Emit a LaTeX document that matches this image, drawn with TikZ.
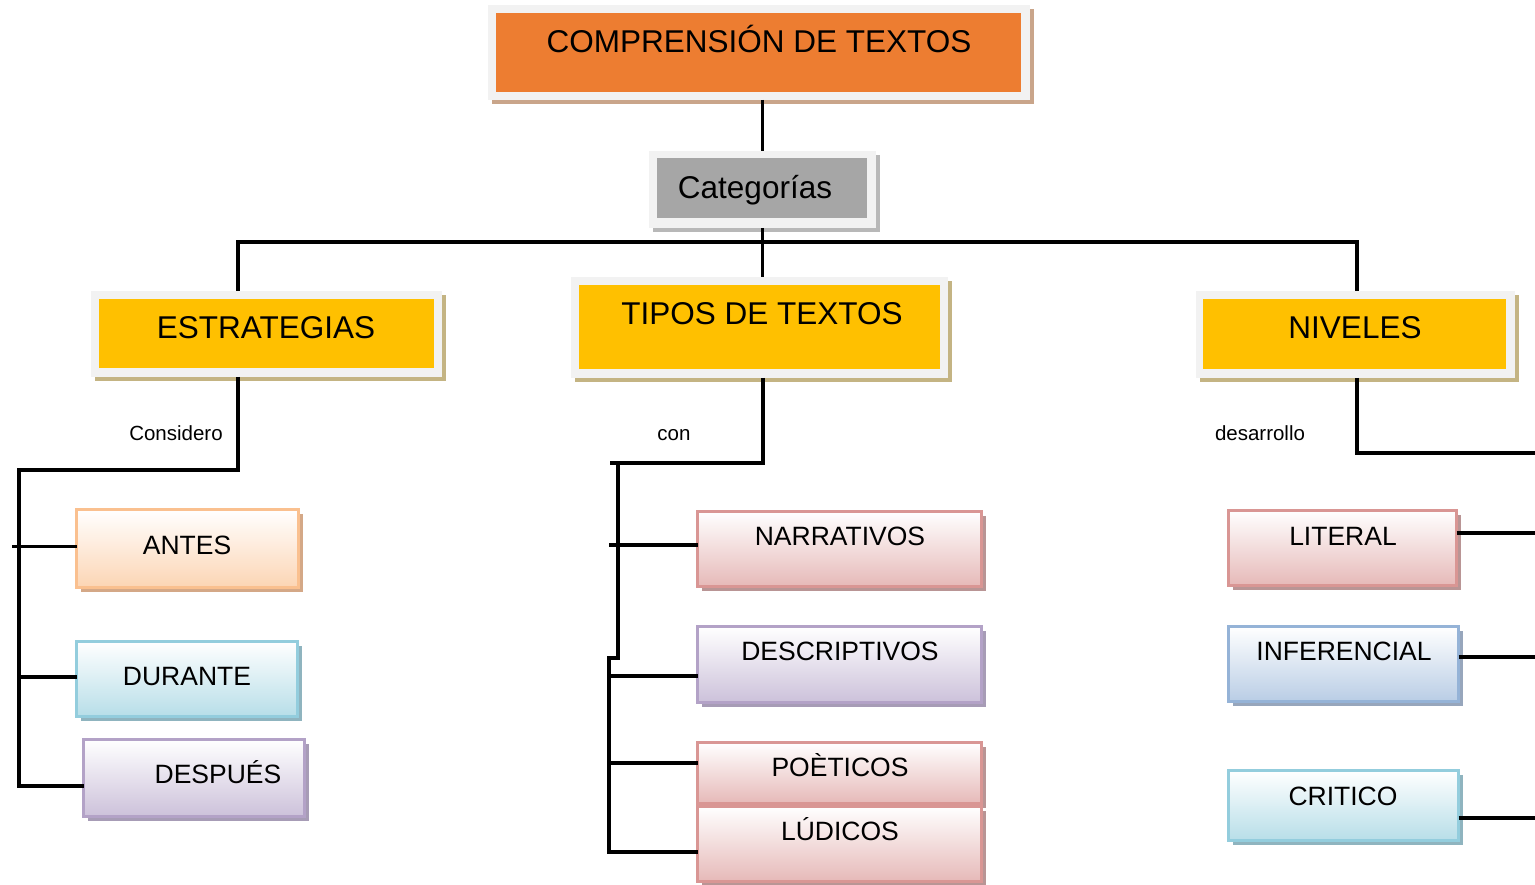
\documentclass[tikz,border=0pt]{standalone}
\usepackage{fontspec}
\setmainfont{Liberation Sans}
\usetikzlibrary{shadows}
\definecolor{cOrange}{HTML}{ED7D31}
\definecolor{cGray}{HTML}{A6A6A6}
\definecolor{cYellow}{HTML}{FFC000}
\definecolor{cFrame}{HTML}{F2F2F2}
\definecolor{shOrange}{HTML}{C9A58A}
\definecolor{shGray}{HTML}{B8B8B8}
\definecolor{shYellow}{HTML}{C4B483}
\definecolor{bOrange}{HTML}{FAC08F}
\definecolor{fOrange}{HTML}{FCD5B4}
\definecolor{sOrange}{HTML}{D4A887}
\definecolor{bAqua}{HTML}{93CDDD}
\definecolor{fAqua}{HTML}{B7DEE8}
\definecolor{sAqua}{HTML}{8FB4BF}
\definecolor{bPurple}{HTML}{B3A2C7}
\definecolor{fPurple}{HTML}{CCC1DA}
\definecolor{sPurple}{HTML}{A79CB6}
\definecolor{bRed}{HTML}{D99694}
\definecolor{fRed}{HTML}{E6B9B8}
\definecolor{sRed}{HTML}{B99595}
\definecolor{bBlue}{HTML}{95B3D7}
\definecolor{fBlue}{HTML}{B9CDE5}
\definecolor{sBlue}{HTML}{97A6BC}
\tikzset{
  frame/.style 2 args={fill=cFrame, inner sep=0pt, outer sep=0pt,
    minimum width=#1, minimum height=#2},
  heads/.style={drop shadow={shadow xshift=4pt, shadow yshift=-4pt, opacity=1, fill=#1}},
  core/.style 2 args={inner sep=0pt, outer sep=0pt, minimum width=#1, minimum height=#2},
  leaf/.style n args={3}{draw=#1, line width=2.5pt, top color=white, bottom color=#2,
    inner sep=0pt, outer sep=0pt,
    drop shadow={shadow xshift=4pt, shadow yshift=-4pt, opacity=1, fill=#3}},
  size/.style 2 args={minimum width=#1, minimum height=#2},
  big/.style={inner sep=0pt, text height=22.6pt, text depth=0pt, font=\fontsize{31.5}{36}\selectfont},
  mid/.style={inner sep=0pt, text height=19pt, text depth=0pt, font=\fontsize{26.5}{30}\selectfont},
  small/.style={inner sep=0pt, text height=14.7pt, text depth=0pt, font=\fontsize{20.5}{24}\selectfont},
  conn/.style={draw=black, line width=3.3pt}
}
\begin{document}
\begin{tikzpicture}[x=1pt, y=-1pt]
\useasboundingbox (0,0) rectangle (1535,885);
% head boxes
\node[frame={542pt}{95pt}, heads=shOrange] (title) at (759,52.5) {};
\node[core={525pt}{79pt}, fill=cOrange] (titlein) at (758.5,52.5) {};
\node[big] (titletx) at (759,41) {COMPRENSIÓN DE TEXTOS};

\node[frame={227pt}{77pt}, heads=shGray] (cat) at (762.5,189.5) {};
\node[core={210pt}{60pt}, fill=cGray] (catin) at (762,188) {};
\node[big] (cattx) at (755,187) {Categorías};

\node[frame={351pt}{86pt}, heads=shYellow] (estr) at (266.5,334) {};
\node[core={335pt}{69pt}, fill=cYellow] (estrin) at (266.5,333.5) {};
\node[big] (estrtx) at (266,327) {ESTRATEGIAS};

\node[frame={377pt}{101pt}, heads=shYellow] (tipos) at (759.5,327.5) {};
\node[core={361pt}{84pt}, fill=cYellow] (tiposin) at (759.5,327) {};
\node[big] (tipostx) at (762,313) {TIPOS DE TEXTOS};

\node[frame={319pt}{87pt}, heads=shYellow] (niv) at (1355.5,334.5) {};
\node[core={303pt}{70pt}, fill=cYellow] (nivin) at (1354.5,334) {};
\node[big] (nivtx) at (1355,327) {NIVELES};

% leaf boxes
\node[leaf={bOrange}{fOrange}{sOrange}, size={222pt}{78pt}] (antes) at (187.5,548.5) {};
\node[mid] (antestx) at (187,545) {ANTES};
\node[leaf={bAqua}{fAqua}{sAqua}, size={221pt}{75pt}] (durante) at (187,679) {};
\node[mid] (durantetx) at (187,676) {DURANTE};
\node[leaf={bPurple}{fPurple}{sPurple}, size={221pt}{77pt}] (despues) at (194,778) {};
\node[mid] (despuestx) at (218,774) {DESPUÉS};

\node[leaf={bRed}{fRed}{sRed}, size={284pt}{75pt}] (narr) at (839.5,549) {};
\node[mid] (narrtx) at (840,536) {NARRATIVOS};
\node[leaf={bPurple}{fPurple}{sPurple}, size={284pt}{76pt}] (desc) at (839.5,664.5) {};
\node[mid] (desctx) at (840,651) {DESCRIPTIVOS};
\node[leaf={bRed}{fRed}{sRed}, size={284pt}{61pt}] (poe) at (839.5,773) {};
\node[mid] (poetx) at (840,767) {POÈTICOS};
\node[leaf={bRed}{fRed}{sRed}, size={284pt}{75pt}] (lud) at (839.5,844) {};
\node[mid] (ludtx) at (840,831) {LÚDICOS};

\node[leaf={bRed}{fRed}{sRed}, size={228pt}{75pt}] (lit) at (1342.5,548) {};
\node[mid] (littx) at (1343,536) {LITERAL};
\node[leaf={bBlue}{fBlue}{sBlue}, size={230pt}{75pt}] (inf) at (1343.5,664) {};
\node[mid] (inftx) at (1344,651) {INFERENCIAL};
\node[leaf={bAqua}{fAqua}{sAqua}, size={230pt}{70pt}] (crit) at (1343.5,805.5) {};
\node[mid] (crittx) at (1343,796) {CRITICO};

% labels
\node[small] (lab1) at (176,433) {Considero};
\node[small] (lab2) at (674,433) {con};
\node[small] (lab3) at (1260,433) {desarrollo};

% coordinates
\coordinate (bL) at (238,242);
\coordinate (bR) at (1357,242);
\coordinate (eTop) at (19,470);
\coordinate (eBot) at (19,786);
\coordinate (eStub) at (12,0);
\coordinate (tA) at (763,463);
\coordinate (tB) at (610,463);
\coordinate (tV1) at (618,463);
\coordinate (tJ1) at (618,658);
\coordinate (tJ2) at (609,658);
\coordinate (tV2) at (609,852);
\coordinate (nY) at (1357,453);
\coordinate (nR) at (1540,453);
\coordinate (rEdge) at (1540,0);

% connectors
\draw[conn] (cat.north |- title.south) -- (cat.north);
\draw[conn] (cat.south) -- (cat.south |- tipos.north);
\draw[conn] (bL |- estr.north) -- (bL) -- (bR) -- (bR |- niv.north);

\draw[conn] (bL |- estr.south) -- (bL |- eTop) -- (eTop) -- (eBot) -- (eBot -| despues.west);
\draw[conn] ([yshift=2pt]antes.west) -- ([yshift=2pt]antes.west -| eStub);
\draw[conn] ([yshift=2pt]durante.west) -- ([yshift=2pt]durante.west -| eTop);

\draw[conn] (tA |- tipos.south) -- (tA) -- (tB);
\draw[conn] (tV1) -- (tJ1) -- (tJ2) -- (tV2) -- (tV2 -| lud.west);
\draw[conn] ([yshift=4pt]narr.west) -- ([yshift=4pt]narr.west -| tJ2);
\draw[conn] ([yshift=-11.5pt]desc.west) -- ([yshift=-11.5pt]desc.west -| tJ2);
\draw[conn] ([yshift=10pt]poe.west) -- ([yshift=10pt]poe.west -| tJ2);

\draw[conn] (nY |- niv.south) -- (nY) -- (nR);
\draw[conn] ([yshift=15pt]lit.east) -- ([yshift=15pt]lit.east -| rEdge);
\draw[conn] ([yshift=7pt]inf.east) -- ([yshift=7pt]inf.east -| rEdge);
\draw[conn] ([yshift=-12.5pt]crit.east) -- ([yshift=-12.5pt]crit.east -| rEdge);
\end{tikzpicture}
\end{document}
